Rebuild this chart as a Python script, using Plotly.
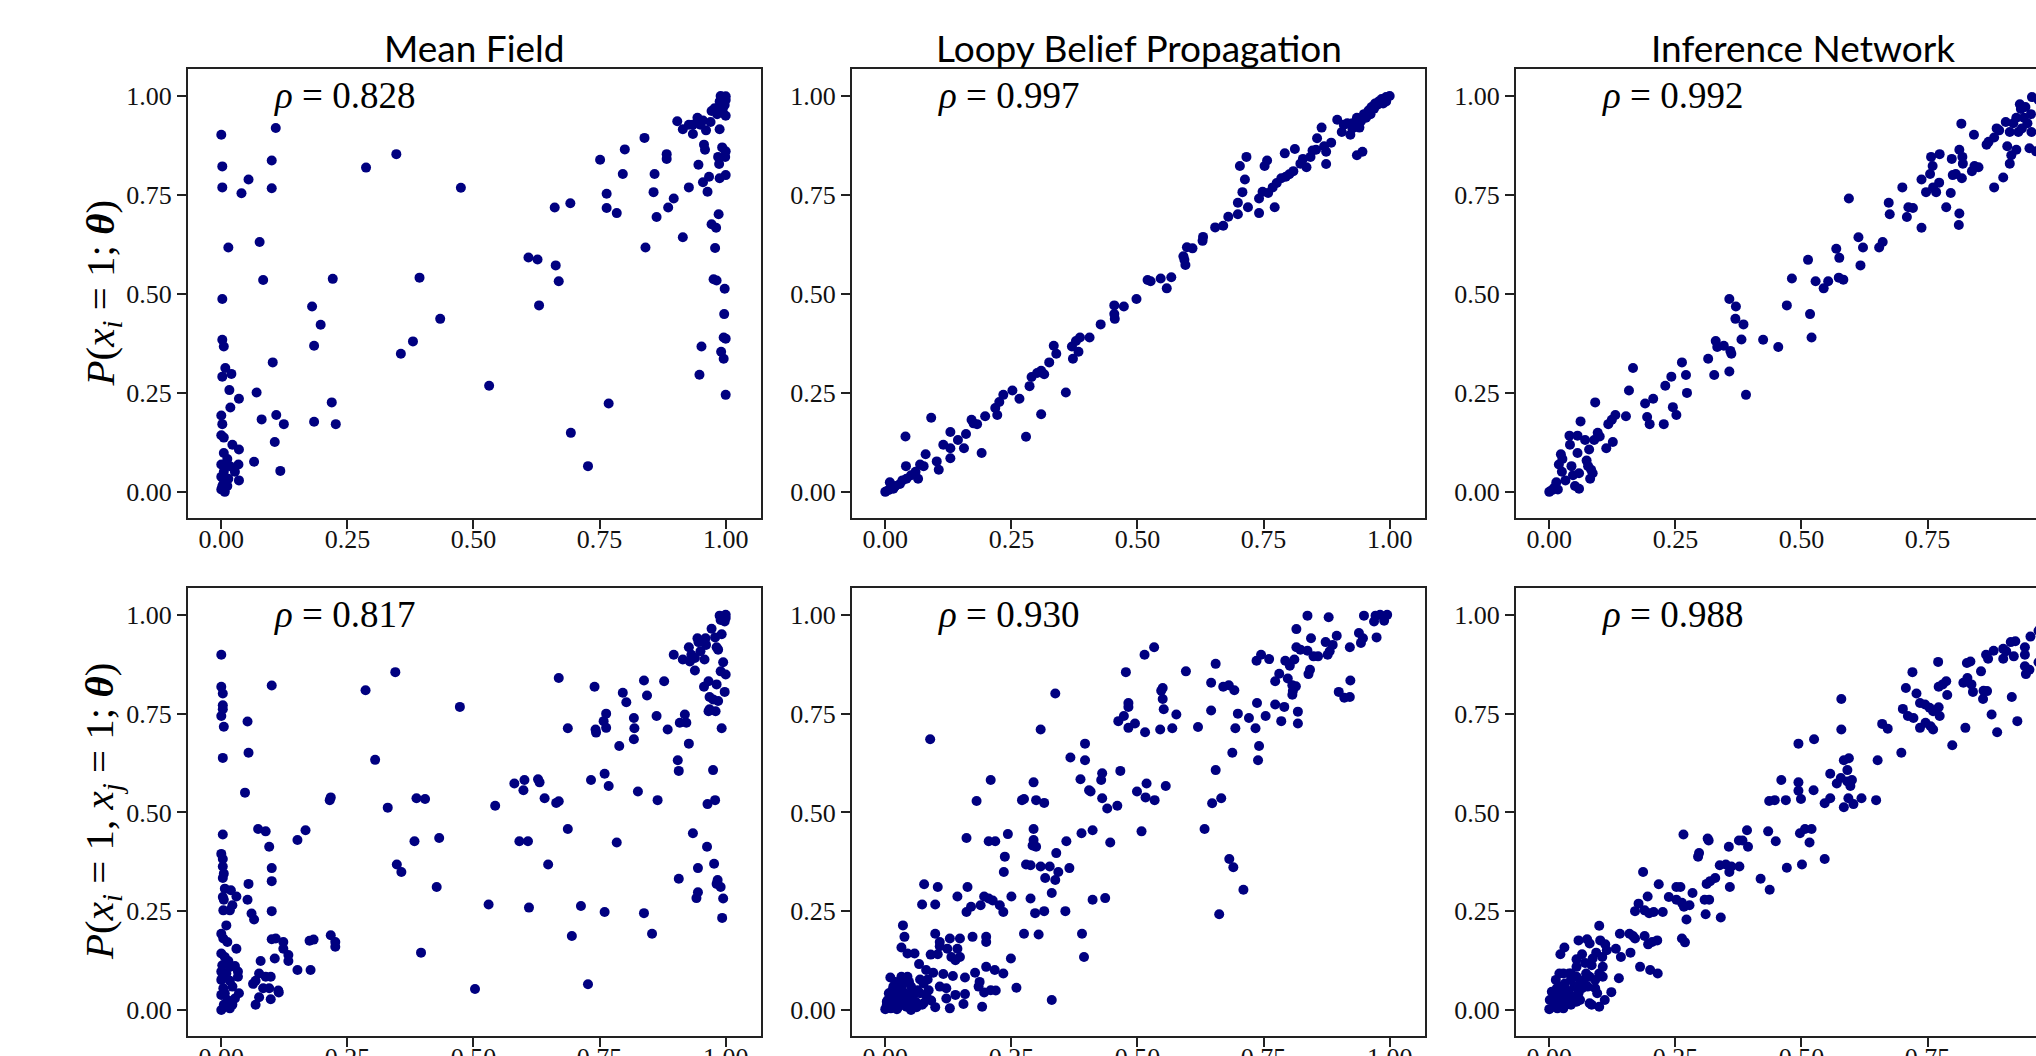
import plotly.graph_objects as go
from plotly.subplots import make_subplots

panel_titles = ["Mean Field", "Loopy Belief Propagation", "Inference Network"]
row_labels = [
    "<i>P</i>(<i>x</i><sub><i>i</i></sub> = 1; <b><i>θ</i></b>)",
    "<i>P</i>(<i>x</i><sub><i>i</i></sub> = 1, <i>x</i><sub><i>j</i></sub> = 1; <b><i>θ</i></b>)",
]
rho_top = ["0.828", "0.997", "0.992"]
rho_bottom = ["0.817", "0.930", "0.988"]
tick_vals = [0, 0.25, 0.5, 0.75, 1.0]
tick_text = ["0.00", "0.25", "0.50", "0.75", "1.00"]

mf_marginal = [(0.0,0.902),(0.002,0.822),(0.002,0.769),(0.014,0.617),(0.002,0.487),(0.002,0.384),(0.005,0.367),(0.008,0.313),(0.02,0.298),(0.002,0.291),(0.016,0.257),(0.035,0.235),(0.018,0.213),(0.0,0.193),(0.002,0.171),(0.0,0.143),(0.005,0.137),(0.022,0.119),(0.035,0.107),(0.005,0.098),(0.012,0.083),(0.0,0.069),(0.017,0.065),(0.034,0.069),(0.005,0.051),(0.027,0.051),(0.0,0.038),(0.014,0.033),(0.035,0.029),(0.004,0.02),(0.0,0.006),(0.007,0.0),(0.002,0.014),(0.012,0.015),(0.065,0.076),
(0.108,0.919),(0.054,0.789),(0.04,0.754),(0.1,0.837),(0.1,0.767),(0.076,0.631),(0.083,0.535),(0.102,0.327),(0.07,0.251),(0.08,0.183),(0.109,0.194),(0.106,0.126),(0.124,0.171),(0.117,0.053),(0.287,0.819),(0.347,0.853),(0.18,0.468),(0.197,0.422),(0.221,0.538),(0.184,0.369),(0.219,0.226),(0.184,0.177),(0.227,0.171),(0.475,0.768),(0.393,0.541),(0.434,0.437),(0.38,0.38),(0.356,0.349),(0.531,0.268),(0.609,0.592),(0.627,0.587),(0.663,0.572),(0.669,0.532),(0.63,0.471),(0.661,0.718),(0.692,0.729),(0.693,0.149),(0.727,0.065),(0.768,0.223),(0.751,0.839),(0.764,0.753),(0.764,0.717),(0.784,0.704),(0.8,0.865),(0.796,0.803),(0.839,0.894),(0.841,0.617),(0.857,0.757),(0.859,0.803),(0.863,0.694),(0.883,0.853),(0.883,0.841),(0.886,0.718),(0.897,0.741),(0.904,0.936),(0.915,0.916),(0.915,0.643),(0.927,0.769),(0.927,0.927),(0.935,0.904),(0.944,0.945),(0.946,0.826),(0.948,0.296),(0.952,0.367),(0.955,0.938),(0.957,0.877),(0.959,0.864),(0.955,0.782),(0.964,0.758),(0.967,0.796),(0.97,0.934),(0.972,0.676),(0.978,0.969),(0.979,0.616),(0.981,0.667),(0.982,0.534),(0.983,0.954),(0.985,0.846),(0.986,0.701),(0.987,0.828),(0.988,0.792),(0.988,0.916),(0.99,1.0),(0.991,0.354),(0.993,0.87),(0.994,0.966),(0.996,0.39),(0.996,0.336),(0.997,0.449),(0.998,0.513),(0.999,0.846),(1.0,0.245),(1.0,0.387),(1.0,0.8),(1.0,0.86),(1.0,0.95),(1.0,0.99),(1.0,0.999),(0.998,0.977),(0.988,0.986),(0.961,0.913),(0.972,0.962),(0.935,0.927),(0.95,0.927),(0.976,0.537)]

lbp_marginal = [(0,0),(0.007,0.005),(0.016,0.008),(0.009,0.024),(0.02,0.015),(0.029,0.02),(0.034,0.029),(0.042,0.033),(0.051,0.042),(0.06,0.051),(0.065,0.033),(0.069,0.069),(0.041,0.065),(0.08,0.095),(0.076,0.065),(0.102,0.077),(0.106,0.056),(0.04,0.14),(0.091,0.187),(0.115,0.119),(0.129,0.151),(0.129,0.085),(0.129,0.11),(0.144,0.131),(0.156,0.11),(0.16,0.146),(0.171,0.182),(0.175,0.173),(0.182,0.171),(0.191,0.098),(0.198,0.191),(0.218,0.212),(0.222,0.194),(0.226,0.227),(0.234,0.245),(0.252,0.256),(0.266,0.235),(0.279,0.139),(0.286,0.267),(0.29,0.29),(0.301,0.3),(0.309,0.306),(0.309,0.196),(0.315,0.297),(0.325,0.327),(0.334,0.369),(0.339,0.349),(0.358,0.251),(0.37,0.367),(0.372,0.336),(0.378,0.381),(0.383,0.354),(0.386,0.39),(0.405,0.39),(0.427,0.423),(0.454,0.471),(0.455,0.437),(0.454,0.449),(0.473,0.468),(0.498,0.487),(0.52,0.535),(0.526,0.532),(0.546,0.539),(0.558,0.514),(0.567,0.542),(0.591,0.595),(0.595,0.573),(0.593,0.586),(0.598,0.618),(0.609,0.615),(0.629,0.634),(0.63,0.644),(0.654,0.668),(0.67,0.672),(0.68,0.695),(0.699,0.701),(0.699,0.73),(0.703,0.823),(0.708,0.757),(0.713,0.789),(0.716,0.846),(0.719,0.719),(0.741,0.704),(0.741,0.741),(0.748,0.758),(0.752,0.823),(0.757,0.837),(0.759,0.755),(0.768,0.769),(0.772,0.719),(0.776,0.78),(0.785,0.792),(0.792,0.855),(0.794,0.796),(0.801,0.802),(0.809,0.81),(0.812,0.866),(0.823,0.829),(0.828,0.841),(0.835,0.82),(0.843,0.846),(0.847,0.862),(0.854,0.864),(0.856,0.893),(0.865,0.92),(0.87,0.873),(0.874,0.859),(0.874,0.828),(0.884,0.882),(0.896,0.94),(0.905,0.909),(0.909,0.927),(0.916,0.931),(0.922,0.902),(0.926,0.918),(0.935,0.85),(0.94,0.92),(0.946,0.859),(0.943,0.936),(0.949,0.954),(0.958,0.963),(0.964,0.972),(0.971,0.981),(0.978,0.986),(0.984,0.992),(0.993,0.997),(1.0,1.0),(0.969,0.968),(0.953,0.945),(0.975,0.977),(0.987,0.981),(0.962,0.954),(0.935,0.945),(0.926,0.931),(0.993,0.986)]

inf_marginal = [(0,0),(0.006,0.005),(0.01,0.011),(0.014,0.024),(0.017,0.006),(0.023,0.095),(0.026,0.083),(0.019,0.069),(0.025,0.051),(0.032,0.029),(0.04,0.142),(0.041,0.119),(0.044,0.065),(0.047,0.042),(0.051,0.015),(0.056,0.142),(0.056,0.098),(0.059,0.047),(0.062,0.178),(0.059,0.008),(0.071,0.131),(0.074,0.079),(0.077,0.065),(0.079,0.107),(0.081,0.033),(0.083,0.056),(0.086,0.047),(0.089,0.131),(0.091,0.226),(0.096,0.149),(0.1,0.14),(0.113,0.11),(0.117,0.171),(0.124,0.182),(0.126,0.126),(0.131,0.194),(0.152,0.191),(0.158,0.256),(0.166,0.313),(0.19,0.223),(0.194,0.189),(0.199,0.171),(0.206,0.235),(0.227,0.171),(0.23,0.268),(0.242,0.291),(0.245,0.214),(0.252,0.194),(0.263,0.327),(0.271,0.295),(0.273,0.25),(0.315,0.336),(0.327,0.295),(0.33,0.381),(0.333,0.366),(0.346,0.369),(0.357,0.487),(0.357,0.304),(0.361,0.349),(0.359,0.356),(0.37,0.468),(0.369,0.437),(0.381,0.385),(0.385,0.423),(0.39,0.245),(0.424,0.384),(0.454,0.366),(0.471,0.471),(0.481,0.539),(0.513,0.586),(0.517,0.449),(0.52,0.39),(0.528,0.532),(0.544,0.514),(0.553,0.532),(0.569,0.614),(0.575,0.591),(0.574,0.541),(0.583,0.536),(0.594,0.741),(0.613,0.643),(0.617,0.572),(0.622,0.617),(0.654,0.617),(0.661,0.631),(0.673,0.73),(0.675,0.701),(0.7,0.769),(0.709,0.694),(0.712,0.719),(0.721,0.717),(0.738,0.667),(0.738,0.789),(0.747,0.757),(0.755,0.803),(0.757,0.846),(0.76,0.823),(0.761,0.769),(0.767,0.757),(0.773,0.781),(0.774,0.853),(0.787,0.719),(0.796,0.755),(0.798,0.841),(0.8,0.8),(0.806,0.803),(0.812,0.674),(0.813,0.703),(0.813,0.864),(0.817,0.93),(0.818,0.792),(0.819,0.846),(0.82,0.829),(0.838,0.81),(0.843,0.823),(0.851,0.82),(0.842,0.902),(0.867,0.877),(0.871,0.884),(0.882,0.769),(0.882,0.895),(0.887,0.918),(0.892,0.913),(0.9,0.794),(0.905,0.934),(0.908,0.873),(0.913,0.829),(0.913,0.909),(0.916,0.85),(0.92,0.931),(0.926,0.945),(0.93,0.909),(0.933,0.979),(0.935,0.967),(0.926,0.864),(0.937,0.918),(0.941,0.945),(0.944,0.972),(0.948,0.931),(0.952,0.868),(0.956,0.909),(0.957,0.997),(0.955,0.954),(0.97,0.99),(0.98,0.96),(0.99,1.0),(0.975,0.9),(0.965,0.86)]

mf_pairwise = [(0,0.899),(0,0.818),(0.003,0.801),(0.003,0.771),(0.003,0.761),(0,0.744),(0.005,0.717),(0.003,0.638),(0.003,0.444),(0,0.395),(0.003,0.382),(0.003,0.363),(0.005,0.345),(0.003,0.334),(0.003,0.286),(0.005,0.279),(0.007,0.307),(0.019,0.303),(0.03,0.287),(0.022,0.265),(0.004,0.252),(0.017,0.252),(0.01,0.214),(0,0.193),(0.004,0.181),(0.012,0.172),(0.03,0.155),(0,0.143),(0.007,0.134),(0.014,0.124),(0.002,0.113),(0.017,0.109),(0.027,0.111),(0,0.097),(0.01,0.092),(0.033,0.097),(0,0.076),(0.017,0.074),(0.033,0.084),(0.004,0.055),(0.022,0.059),(0.035,0.042),(0,0.038),(0.012,0.025),(0.027,0.029),(0.005,0.013),(0,0),(0.017,0.004),(0.007,0.042),(0.022,0.013),
(0.052,0.73),(0.054,0.651),(0.047,0.55),(0.073,0.458),(0.088,0.452),(0.095,0.413),(0.1,0.359),(0.1,0.326),(0.054,0.319),(0.052,0.279),(0.06,0.244),(0.065,0.229),(0.1,0.25),(0.078,0.124),(0.063,0.066),(0.068,0.074),(0.075,0.092),(0.068,0.013),(0.075,0.032),(0.088,0.084),(0.098,0.084),(0.083,0.055),(0.095,0.055),(0.098,0.027),(0.113,0.049),(0.114,0.044),(0.1,0.179),(0.108,0.181),(0.106,0.13),(0.123,0.172),(0.123,0.155),(0.133,0.139),(0.133,0.124),(0.151,0.101),(0.177,0.101),(0.151,0.43),(0.167,0.455),(0.175,0.175),(0.183,0.178),(0.1,0.821),(0.217,0.189),(0.226,0.172),(0.226,0.16),(0.215,0.531),(0.217,0.538),(0.286,0.809),(0.305,0.633),(0.33,0.512),(0.345,0.855),(0.348,0.368),(0.357,0.349),(0.383,0.427),(0.387,0.536),(0.404,0.534),(0.396,0.145),(0.432,0.435),(0.427,0.311),(0.473,0.767),(0.503,0.053),(0.53,0.267),(0.543,0.517),(0.581,0.573),(0.599,0.556),(0.601,0.582),(0.591,0.427),(0.608,0.427),(0.61,0.259),(0.628,0.584),(0.631,0.576),(0.641,0.536),(0.648,0.368),(0.664,0.524),(0.669,0.528),(0.669,0.84),(0.687,0.713),(0.687,0.458),(0.695,0.187),(0.713,0.263),(0.727,0.065),(0.733,0.582),(0.74,0.818),(0.742,0.71),(0.743,0.702),(0.758,0.731),(0.76,0.598),(0.763,0.75),(0.763,0.714),(0.768,0.567),(0.76,0.248),(0.784,0.424),(0.789,0.668),(0.796,0.803),(0.803,0.779),(0.818,0.739),(0.819,0.713),(0.818,0.685),(0.826,0.553),(0.838,0.834),(0.838,0.245),(0.844,0.796),(0.854,0.193),(0.863,0.744),(0.865,0.531),(0.878,0.832),(0.885,0.71),(0.897,0.899),(0.905,0.632),(0.907,0.605),(0.907,0.332),(0.909,0.727),(0.915,0.887),(0.919,0.748),(0.922,0.727),(0.927,0.918),(0.927,0.674),(0.932,0.899),(0.929,0.882),(0.935,0.447),(0.939,0.859),(0.939,0.891),(0.942,0.283),(0.945,0.298),(0.945,0.359),(0.944,0.941),(0.946,0.931),(0.957,0.818),(0.958,0.887),(0.96,0.941),(0.961,0.924),(0.963,0.413),(0.964,0.521),(0.966,0.756),(0.966,0.832),(0.968,0.792),(0.972,0.965),(0.975,0.607),(0.977,0.37),(0.979,0.531),(0.979,0.943),(0.98,0.756),(0.982,0.824),(0.982,0.918),(0.982,0.319),(0.984,0.329),(0.985,0.912),(0.985,0.782),(0.988,0.998),(0.99,0.857),(0.99,0.311),(0.992,0.951),(0.992,0.713),(0.993,0.233),(0.995,0.88),(0.995,0.282),(0.998,0.805),(1.0,0.849),(1.0,0.992),(1.0,1.0),(0.998,0.983),(0.99,0.987),(0.968,0.761),(0.95,0.908),(0.975,0.786)]

lbp_pairwise = [(0.837,0.998),(0.879,0.994),(0.949,0.998),(0.972,0.998),(0.981,1.0),(0.995,1.0),(0.969,0.983),(0.989,0.985),(0.815,0.964),(0.844,0.941),(0.895,0.947),(0.873,0.931),(0.887,0.924),(0.939,0.954),(0.947,0.941),(0.943,0.929),(0.974,0.943),(0.921,0.918),(0.815,0.918),(0.823,0.912),(0.837,0.909),(0.849,0.895),(0.858,0.895),(0.877,0.899),(0.881,0.908),(0.745,0.899),(0.736,0.884),(0.761,0.888),(0.793,0.884),(0.802,0.871),(0.811,0.887),(0.781,0.851),(0.798,0.839),(0.773,0.832),(0.807,0.822),(0.814,0.819),(0.807,0.798),(0.808,0.807),(0.842,0.861),(0.839,0.85),(0.899,0.805),(0.91,0.79),(0.921,0.792),(0.922,0.834),(0.737,0.777),(0.773,0.773),(0.791,0.767),(0.818,0.755),(0.754,0.744),(0.721,0.739),(0.785,0.731),(0.818,0.725),(0.734,0.713),(0.699,0.75),(0.692,0.809),(0.681,0.822),(0.67,0.818),(0.646,0.828),(0.655,0.876),(0.646,0.758),(0.62,0.716),(0.694,0.713),(0.688,0.651),(0.741,0.668),(0.739,0.632),(0.655,0.607),(0.666,0.536),(0.648,0.523),(0.633,0.458),(0.682,0.382),(0.69,0.361),(0.71,0.304),(0.662,0.242),(0.596,0.857),(0.577,0.748),(0.569,0.713),(0.545,0.71),(0.552,0.761),(0.55,0.787),(0.55,0.815),(0.547,0.808),(0.533,0.918),(0.514,0.899),(0.515,0.703),(0.495,0.725),(0.482,0.714),(0.482,0.767),(0.482,0.777),(0.477,0.855),(0.473,0.744),(0.462,0.731),(0.499,0.553),(0.518,0.573),(0.516,0.538),(0.534,0.531),(0.556,0.567),(0.466,0.605),(0.46,0.517),(0.44,0.51),(0.43,0.536),(0.428,0.582),(0.43,0.599),(0.407,0.553),(0.404,0.556),(0.411,0.455),(0.389,0.447),(0.387,0.584),(0.396,0.674),(0.396,0.632),(0.367,0.639),(0.337,0.801),(0.308,0.71),(0.294,0.576),(0.299,0.531),(0.315,0.524),(0.271,0.531),(0.275,0.534),(0.209,0.582),(0.181,0.529),(0.089,0.685),(0.508,0.452),(0.446,0.424),(0.411,0.279),(0.436,0.283),(0.359,0.427),(0.339,0.397),(0.294,0.458),(0.294,0.43),(0.292,0.416),(0.299,0.413),(0.243,0.445),(0.218,0.427),(0.205,0.427),(0.161,0.435),(0.237,0.388),(0.235,0.349),(0.279,0.368),(0.288,0.366),(0.308,0.363),(0.326,0.363),(0.317,0.334),(0.337,0.329),(0.343,0.349),(0.365,0.359),(0.33,0.296),(0.288,0.282),(0.297,0.245),(0.315,0.25),(0.357,0.25),(0.275,0.193),(0.304,0.191),(0.39,0.193),(0.394,0.134),(0.25,0.287),(0.227,0.265),(0.234,0.248),(0.213,0.277),(0.205,0.282),(0.196,0.287),(0.189,0.265),(0.17,0.261),(0.161,0.248),(0.143,0.287),(0.163,0.311),(0.104,0.311),(0.077,0.318),(0.099,0.267),(0.073,0.267),(0.035,0.214),(0.038,0.185),(0.032,0.158),(0.044,0.143),(0.058,0.143),(0.099,0.193),(0.108,0.172),(0.108,0.161),(0.09,0.14),(0.104,0.141),(0.128,0.181),(0.148,0.181),(0.123,0.155),(0.143,0.155),(0.131,0.134),(0.148,0.134),(0.139,0.126),(0.173,0.185),(0.2,0.185),(0.2,0.172),(0.249,0.13),(0.067,0.116),(0.081,0.101),(0.095,0.094),(0.115,0.091),(0.134,0.086),(0.158,0.082),(0.178,0.094),(0.2,0.109),(0.217,0.101),(0.234,0.092),(0.187,0.071),(0.185,0.059),(0.196,0.044),(0.209,0.05),(0.219,0.049),(0.26,0.056),(0.33,0.025),(0.192,0.008),(0.158,0.04),(0.155,0.015),(0.139,0.038),(0.128,0.004),(0.121,0.029),(0.099,0.007),(0.108,0.059),(0.121,0.055),(0.091,0.024),(0.086,0.05),(0.084,0.077),(0.076,0.067),(0.069,0.042),(0.073,0.013),(0.051,0.059),(0.044,0.084),(0.01,0.082),(0,0.002),
(0.007,0.042),(0.003,0.013),(0.011,0.004),(0.02,0.017),(0.025,0.029),(0.033,0.013),(0.042,0.008),(0.051,0.0),(0.055,0.017),(0.064,0.05),(0.016,0.035),(0.025,0.046),(0.032,0.055),(0.005,0.025),(0.014,0.013),(0.042,0.029),(0.051,0.025),(0.062,0.007),(0.023,0.002),(0.038,0.042),(0.02,0.071),(0.032,0.084),(0.047,0.071),(0.069,0.077),(0.076,0.017),(0.014,0.05),(0.003,0.021),(0.007,0.01),(0.026,0.008),(0.035,0.021),(0.053,0.046),(0.082,0.034),(0.06,0.021),(0.055,0.038),(0.038,0.071),(0.029,0.067),(0.016,0.059)]

inf_pairwise = [(0.954,0.945),(0.915,0.931),(0.924,0.933),(0.9,0.914),(0.906,0.908),(0.881,0.909),(0.866,0.899),(0.87,0.889),(0.9,0.889),(0.921,0.895),(0.943,0.918),(0.943,0.899),(0.943,0.87),(0.945,0.85),(0.952,0.861),(0.856,0.857),(0.861,0.808),(0.868,0.807),(0.86,0.787),(0.917,0.792),(0.877,0.748),(0.928,0.731),(0.888,0.703),(0.825,0.714),(0.799,0.67),(0.771,0.881),(0.828,0.878),(0.835,0.882),(0.829,0.84),(0.821,0.828),(0.837,0.824),(0.84,0.805),(0.787,0.832),(0.78,0.824),(0.772,0.818),(0.789,0.797),(0.72,0.855),(0.707,0.815),(0.728,0.801),(0.701,0.762),(0.711,0.744),(0.722,0.739),(0.735,0.777),(0.745,0.773),(0.754,0.765),(0.761,0.756),(0.772,0.766),(0.774,0.744),(0.735,0.714),(0.746,0.727),(0.756,0.718),(0.761,0.71),(0.698,0.651),(0.66,0.724),(0.671,0.712),(0.651,0.632),(0.579,0.787),(0.579,0.71),(0.525,0.685),(0.494,0.674),(0.584,0.632),(0.594,0.637),(0.591,0.607),(0.557,0.598),(0.6,0.582),(0.591,0.578),(0.597,0.567),(0.57,0.573),(0.578,0.587),(0.46,0.582),(0.494,0.576),(0.494,0.555),(0.524,0.556),(0.499,0.534),(0.436,0.529),(0.447,0.531),(0.469,0.531),(0.557,0.536),(0.593,0.536),(0.619,0.536),(0.648,0.531),(0.546,0.523),(0.603,0.521),(0.584,0.513),(0.266,0.444),(0.314,0.434),(0.316,0.429),(0.392,0.455),(0.434,0.452),(0.449,0.427),(0.376,0.429),(0.383,0.429),(0.394,0.413),(0.356,0.413),(0.497,0.447),(0.507,0.458),(0.52,0.458),(0.516,0.424),(0.297,0.397),(0.295,0.388),(0.338,0.366),(0.35,0.368),(0.361,0.363),(0.377,0.363),(0.357,0.349),(0.358,0.311),(0.471,0.36),(0.501,0.368),(0.546,0.382),(0.419,0.332),(0.437,0.304),(0.329,0.334),(0.319,0.326),(0.312,0.319),(0.308,0.279),(0.317,0.279),(0.31,0.242),(0.34,0.234),(0.284,0.296),(0.252,0.311),(0.26,0.311),(0.237,0.286),(0.252,0.279),(0.263,0.271),(0.278,0.265),(0.267,0.261),(0.272,0.229),(0.263,0.181),(0.269,0.171),(0.186,0.349),(0.217,0.318),(0.195,0.287),(0.177,0.269),(0.17,0.25),(0.189,0.252),(0.198,0.245),(0.207,0.248),(0.225,0.248),(0.189,0.187),(0.196,0.166),(0.204,0.172),(0.214,0.176),(0.18,0.109),(0.2,0.101),(0.215,0.092),(0.099,0.213),(0.14,0.193),(0.159,0.193),(0.166,0.187),(0.17,0.181),(0.161,0.145),(0.142,0.134),(0.138,0.08),(0.123,0.045),(0.11,0.025),(0.099,0.008),(0.08,0.017),(0.091,0.055),(0.106,0.084),(0.099,0.092),(0.105,0.134),(0.114,0.151),(0.132,0.155),(0.111,0.166),(0.101,0.176),(0.075,0.179),(0.08,0.168),(0.058,0.176),(0.03,0.158),(0.022,0.141),(0.054,0.128),(0.065,0.141),(0.086,0.13),(0.093,0.145),(0.106,0.109),(0.084,0.113),(0.071,0.119),(0.054,0.109),(0.039,0.092),(0.02,0.092),(0.013,0.076),(0.005,0.046),(0.001,0.025),(0,0.002),
(0.009,0.008),(0.016,0.017),(0.024,0.025),(0.031,0.034),(0.039,0.042),(0.05,0.059),(0.061,0.067),(0.073,0.092),(0.069,0.076),(0.08,0.084),(0.091,0.076),(0.095,0.042),(0.084,0.013),(0.043,0.013),(0.028,0.004),(0.035,0.021),(0.054,0.021),(0.046,0.034),(0.058,0.042),(0.015,0.034),(0.024,0.059),(0.031,0.067),(0.043,0.076),(0.016,0.004),(0.007,0.021),(0.01,0.042),(0.024,0.042),(0.035,0.05),(0.065,0.055),(0.076,0.059),(0.061,0.025),(0.043,0.092),(0.054,0.084),(0.028,0.092),(0.015,0.055),
(0.97,0.96),(0.98,0.98),(0.99,0.99),(1.0,1.0),(0.975,0.93),(0.97,0.88),(0.985,0.85)]

series = [mf_marginal, lbp_marginal, inf_marginal, mf_pairwise, lbp_pairwise, inf_pairwise]
rho_values = rho_top + rho_bottom

W, H = 2036, 1056
fig = make_subplots(rows=2, cols=3)

for k, pts in enumerate(series):
    r, c = k // 3 + 1, k % 3 + 1
    fig.add_trace(go.Scatter(
        x=[p[0] for p in pts], y=[p[1] for p in pts], mode="markers",
        marker=dict(color="#000080", size=10, line=dict(width=0)),
        showlegend=False, hoverinfo="skip", cliponaxis=True,
    ), row=r, col=c)

x_domains = [[188 / W, 761 / W], [852 / W, 1425 / W], [1516 / W, 1.0]]
y_domains = [[(H - 518) / H, (H - 69) / H], [(H - 1036) / H, (H - 588) / H]]
tick_font = dict(family="Liberation Serif, serif", size=26, color="#111")

for k in range(6):
    r, c = k // 3, k % 3
    sfx = "" if k == 0 else str(k + 1)
    xr = [-0.066, 1.07] if c < 2 else [-0.066, 0.965]
    fig.update_layout({
        "xaxis" + sfx: dict(domain=x_domains[c], range=xr, tickvals=tick_vals, ticktext=tick_text,
                            showline=True, mirror=True, linecolor="#222", linewidth=2,
                            ticks="outside", ticklen=9, tickwidth=1.5, tickcolor="#222",
                            ticklabelstandoff=-12,
                            showgrid=False, zeroline=False, tickfont=tick_font, automargin=False),
        "yaxis" + sfx: dict(domain=y_domains[r], range=[-0.066, 1.068], tickvals=tick_vals, ticktext=tick_text,
                            showline=True, mirror=(c < 2), linecolor="#222", linewidth=2,
                            ticks="outside", ticklen=9, tickwidth=1.5, tickcolor="#222",
                            showgrid=False, zeroline=False, tickfont=tick_font, automargin=False),
    })

annotations = []
panel_centers = [(188 + 761) / 2, (852 + 1425) / 2, (1516 + 2089) / 2]
for c in range(3):
    annotations.append(dict(
        text=panel_titles[c], xref="paper", yref="paper",
        x=panel_centers[c] / W, y=(H - 47) / H, xanchor="center", yanchor="middle",
        showarrow=False, font=dict(family="Lato, sans-serif", size=37, color="#000")))

for k in range(6):
    sfx = "" if k == 0 else str(k + 1)
    annotations.append(dict(
        text="<i>ρ</i> = " + rho_values[k], xref="x" + sfx, yref="y" + sfx,
        x=0.1, y=1.0, xanchor="left", yanchor="middle", showarrow=False,
        font=dict(family="Liberation Serif, serif", size=37, color="#000")))

row_centers = [(69 + 518) / 2, (588 + 1036) / 2]
for r in range(2):
    annotations.append(dict(
        text=row_labels[r], xref="paper", yref="paper",
        x=102 / W, y=(H - row_centers[r]) / H, xanchor="center", yanchor="middle",
        textangle=-90, showarrow=False,
        font=dict(family="Liberation Serif, serif", size=41, color="#000")))

fig.update_layout(
    width=W, height=H, margin=dict(l=0, r=0, t=0, b=0),
    paper_bgcolor="white", plot_bgcolor="white",
    annotations=annotations, showlegend=False,
)

fig.write_html("out.html", config={"displayModeBar": False},
               post_script="document.body.style.margin='0';document.body.style.overflow='hidden';")
